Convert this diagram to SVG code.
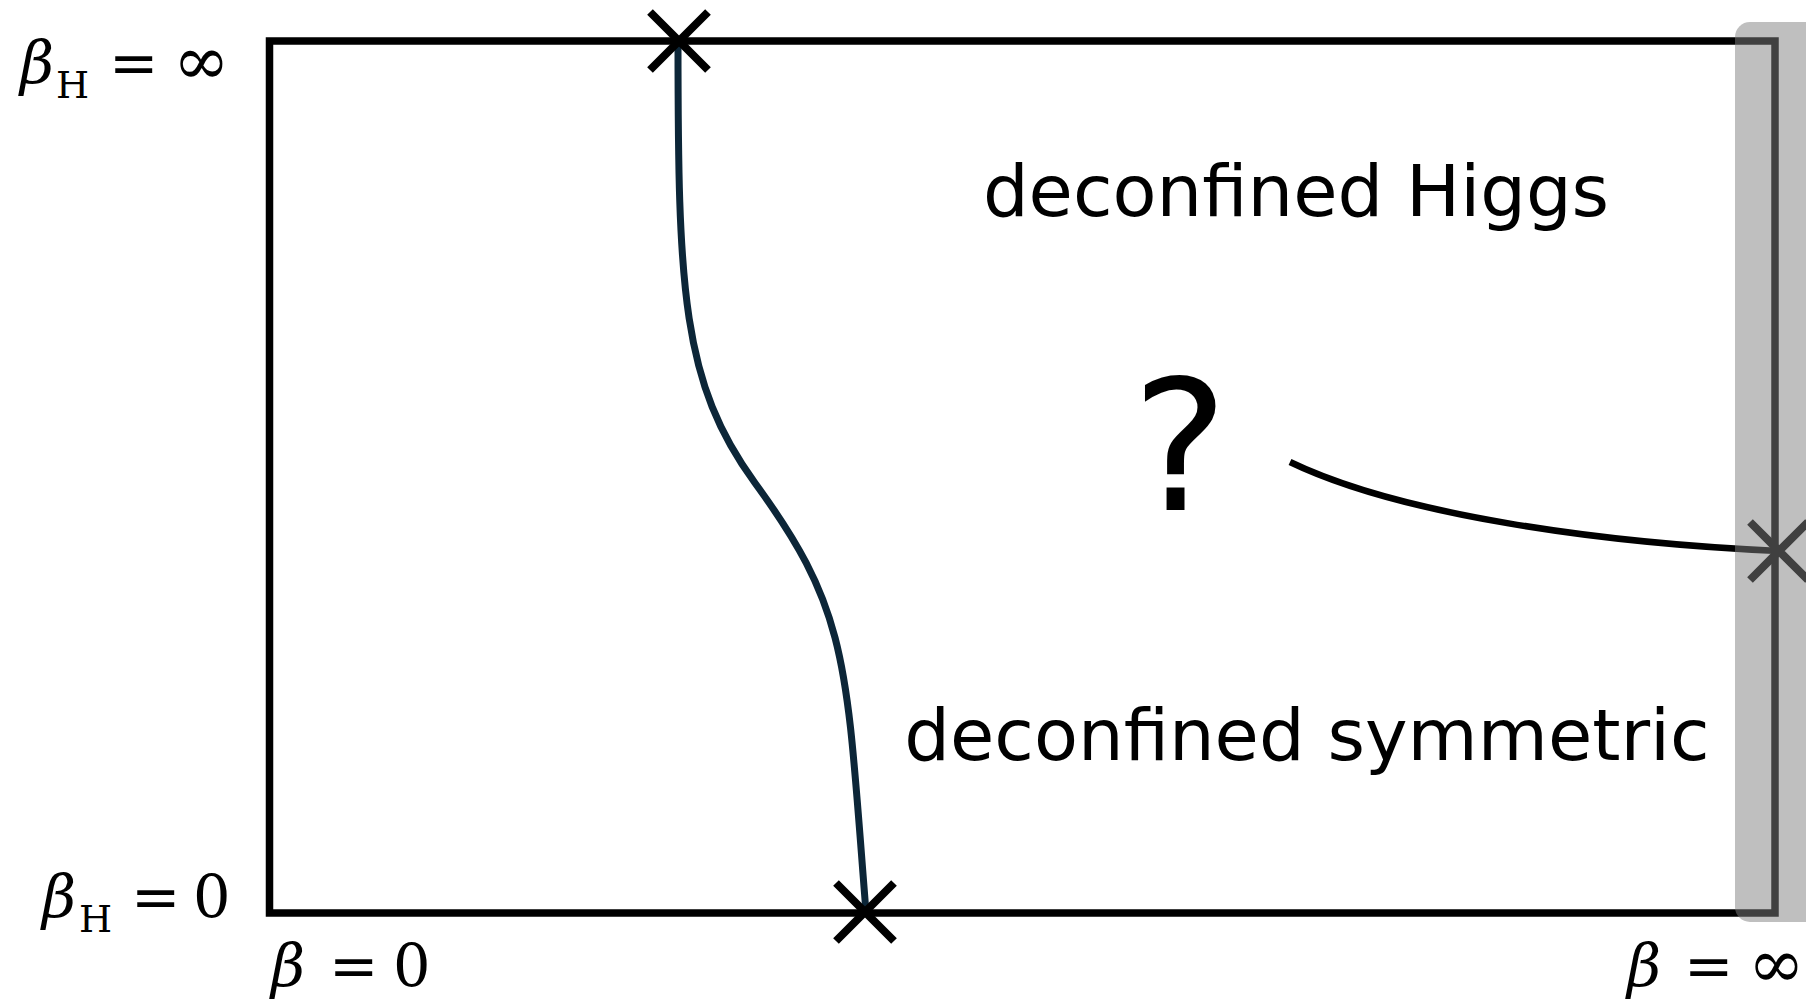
<svg xmlns="http://www.w3.org/2000/svg" width="1806" height="1001" viewBox="0 0 1806 1001">
<style>
.frame{fill:none;stroke:#000;stroke-width:7.5}
.xm{stroke:#000;stroke-width:8;fill:none}
.lbl{font-family:"DejaVu Sans","Liberation Sans",sans-serif;font-size:72px;fill:#000;text-anchor:middle}
.m{font-family:"DejaVu Serif","Liberation Serif",serif;font-size:59px;fill:#000}
.mi{font-style:italic}
.sub{font-size:38px}
.inf{font-size:68px}
</style>
<defs>
<path id="xshape" d="M-29,-29 L29,29 M-29,29 L29,-29"/>
</defs>
<rect class="frame" x="269.5" y="41" width="1505.5" height="872"/>
<g id="connectors">
<path id="boundary-left" d="M678,41 C678,291 682,383 755,483 C850,613 846,662 866,912" fill="none" stroke="#0c2638" stroke-width="7"/>
<path id="boundary-right" d="M1290,462 C1400,515 1600,543 1779,551" fill="none" stroke="#000" stroke-width="6.5"/>
</g>
<g id="cross-top"><use href="#xshape" class="xm" transform="translate(679,41)"/></g>
<g id="cross-bottom"><use href="#xshape" class="xm" transform="translate(865,912)"/></g>
<g id="cross-right"><use href="#xshape" class="xm" transform="translate(1779,551)"/></g>
<g id="region-higgs"><text class="lbl" x="1296" y="216">deconfined Higgs</text></g>
<g id="region-symmetric"><text class="lbl" x="1307" y="760">deconfined symmetric</text></g>
<g id="question"><text class="lbl" x="1180" y="510" style="font-size:181px">?</text></g>
<g id="band"><rect x="1735" y="22" width="90" height="900" rx="15" ry="15" fill="#808080" fill-opacity="0.5"/></g>
<g id="label-bh-inf">
<text class="m mi" x="20" y="84">β</text><text class="m sub" x="56" y="98">H</text><text class="m" x="109" y="84">=</text><text class="m inf" x="173" y="84">∞</text>
</g>
<g id="label-bh-0">
<text class="m mi" x="42" y="918">β</text><text class="m sub" x="79" y="932">H</text><text class="m" x="131" y="918">=</text><text class="m" x="193" y="918">0</text>
</g>
<g id="label-b-0">
<text class="m mi" x="271" y="987">β</text><text class="m" x="329" y="987">=</text><text class="m" x="393" y="987">0</text>
</g>
<g id="label-b-inf">
<text class="m mi" x="1627" y="987">β</text><text class="m" x="1684" y="987">=</text><text class="m inf" x="1748" y="987">∞</text>
</g>
</svg>
